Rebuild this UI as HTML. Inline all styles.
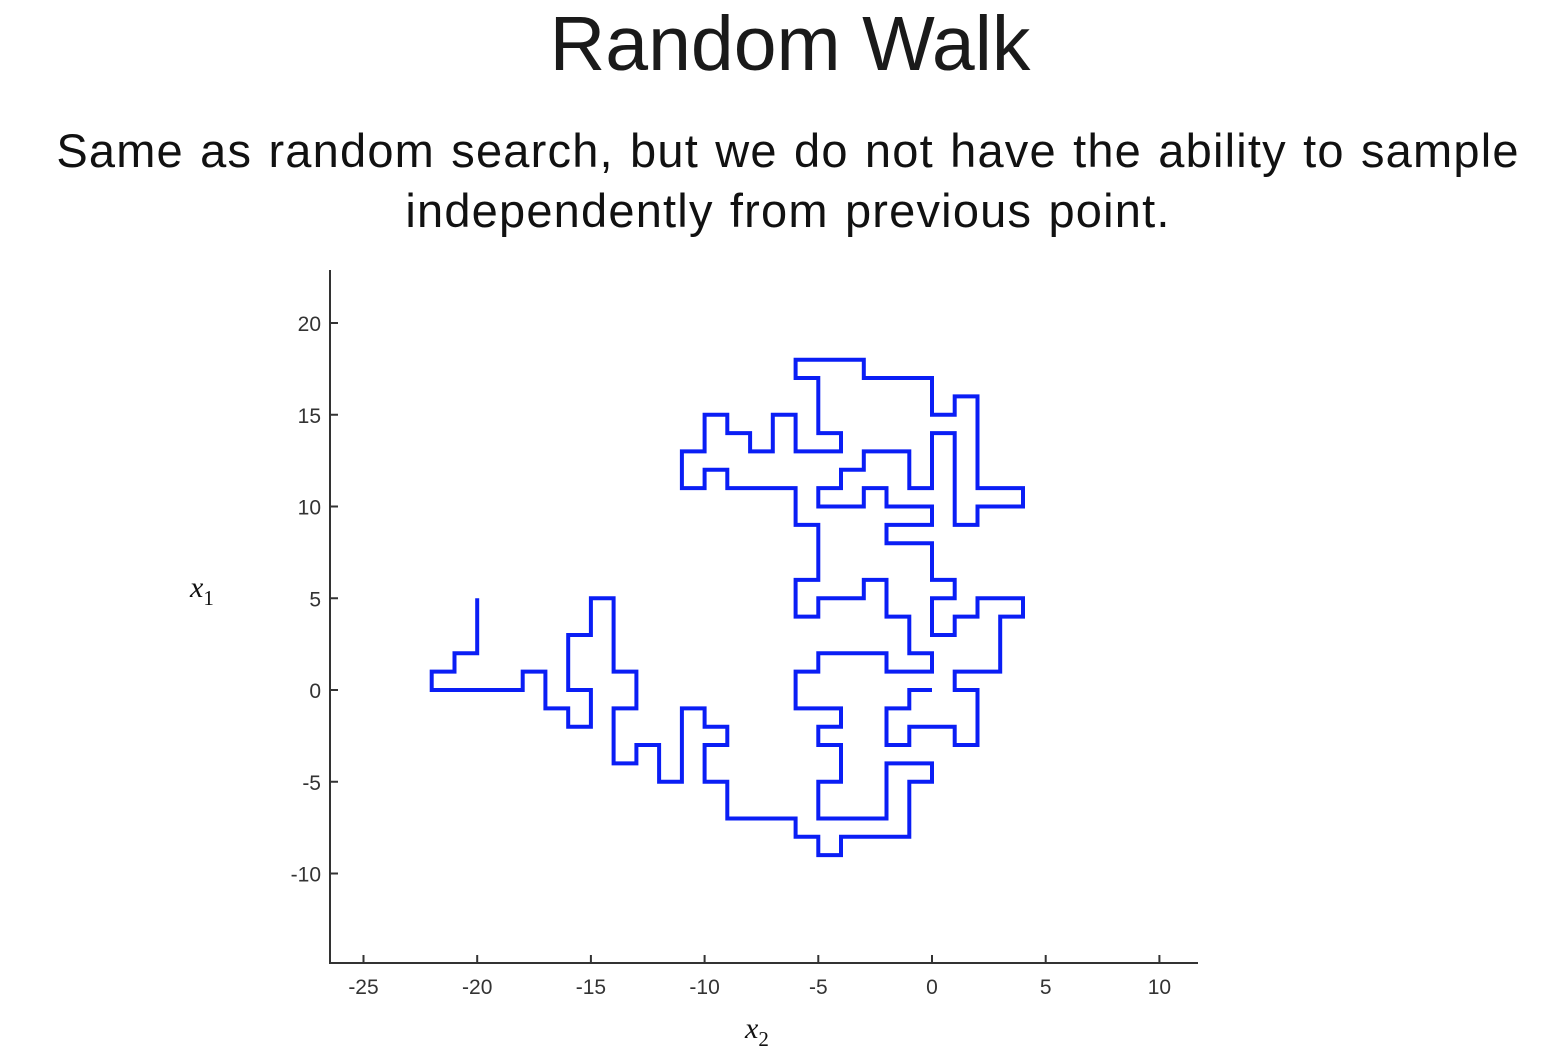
<!DOCTYPE html>
<html><head><meta charset="utf-8"><style>
body{margin:0;background:#fff;width:1545px;height:1054px;overflow:hidden;font-family:"Liberation Sans",sans-serif}
#title{position:absolute;left:0;width:1580px;top:0px;text-align:center;font-size:77px;color:#1a1a1a;font-weight:300}
#sub{position:absolute;left:0;width:1576px;top:121px;text-align:center;font-size:47px;letter-spacing:1.2px;word-spacing:2px;line-height:60px;color:#111}
svg{position:absolute;left:0;top:0}
</style></head><body>
<div id="title">Random Walk</div>
<div id="sub">Same as random search, but we do not have the ability to sample<br>independently from previous point.</div>
<svg id="chart" width="1545" height="1054"></svg>
<script>
const xTicks=[-25,-20,-15,-10,-5,0,5,10];
const yTicks=[-10,-5,0,5,10,15,20];
const walkX=[-20,-20,-21,-21,-22,-22,-18,-18,-17,-17,-16,-16,-15,-15,-16,-16,-15,-15,-14,-14,-13,-13,-14,-14,-13,-13,-12,-12,-11,-11,-10,-10,-9,-9,-10,-10,-9,-9,-6,-6,-5,-5,-4,-4,-1,-1,0,0,-2,-2,-5,-5,-4,-4,-5,-5,-4,-4,-6,-6,-5,-5,-2,-2,0,0,-1,-1,-2,-2,-3,-3,-5,-5,-6,-6,-5,-5,-6,-6,-9,-9,-10,-10,-11,-11,-10,-10,-9,-9,-8,-8,-7,-7,-6,-6,-4,-4,-5,-5,-6,-6,-3,-3,0,0,1,1,2,2,4,4,2,2,1,1,0,0,-1,-1,-3,-3,-4,-4,-5,-5,-3,-3,-2,-2,0,0,-2,-2,0,0,1,1,0,0,1,1,2,2,4,4,3,3,1,1,2,2,1,1,-1,-1,-2,-2,-1,-1,0];
const walkY=[5,2,2,1,1,0,0,1,1,-1,-1,-2,-2,0,0,3,3,5,5,1,1,-1,-1,-4,-4,-3,-3,-5,-5,-1,-1,-2,-2,-3,-3,-5,-5,-7,-7,-8,-8,-9,-9,-8,-8,-5,-5,-4,-4,-7,-7,-5,-5,-3,-3,-2,-2,-1,-1,1,1,2,2,1,1,2,2,4,4,6,6,5,5,4,4,6,6,9,9,11,11,12,12,11,11,13,13,15,15,14,14,13,13,15,15,13,13,14,14,17,17,18,18,17,17,15,15,16,16,11,11,10,10,9,9,14,14,11,11,13,13,12,12,11,11,10,10,11,11,10,10,9,9,8,8,6,6,5,5,3,3,4,4,5,5,4,4,1,1,0,0,-3,-3,-2,-2,-3,-3,-1,-1,0,0];
const NS='http://www.w3.org/2000/svg';
const svg=document.getElementById('chart');
const L=330,R=1198,T=270,B=963;
function sx(v){return 932+v*22.74;}
function sy(v){return 690-v*18.35;}
function mk(tag,attrs){const e=document.createElementNS(NS,tag);for(const k in attrs)e.setAttribute(k,attrs[k]);svg.appendChild(e);return e;}
let ax=mk('path',{d:`M${L},${T}V${B}H${R}`,stroke:'#333',fill:'none','stroke-width':2});


xTicks.forEach(v=>{
  const t=mk('line',{x1:sx(v),x2:sx(v),y1:B,y2:B-8,stroke:'#333','stroke-width':2});
  
  
  const l=mk('text',{x:sx(v),y:B+31,'text-anchor':'middle','font-size':21,fill:'#333','font-family':'Liberation Sans, sans-serif'});
  l.textContent=v;
  
  
});
yTicks.forEach(v=>{
  const t=mk('line',{x1:L,x2:L+8,y1:sy(v),y2:sy(v),stroke:'#333','stroke-width':2});
  
  
  const l=mk('text',{x:L-9,y:sy(v)+8,'text-anchor':'end','font-size':21,fill:'#333','font-family':'Liberation Sans, sans-serif'});
  l.textContent=v;
  
  
});
let d='';
walkX.forEach((v,i)=>{d+=(i?'L':'M')+sx(v).toFixed(1)+','+sy(walkY[i]).toFixed(1);});
const p=mk('path',{d:d,stroke:'#0a1ef5',fill:'none','stroke-width':4,'stroke-linejoin':'miter'});


const yl=mk('text',{x:190,y:597,'font-size':30,'font-style':'italic','font-family':'Liberation Serif, serif',fill:'#111'});
yl.innerHTML='x<tspan font-size="21" font-style="normal" dy="8">1</tspan>';


const xl=mk('text',{x:745,y:1038,'font-size':30,'font-style':'italic','font-family':'Liberation Serif, serif',fill:'#111'});
xl.innerHTML='x<tspan font-size="21" font-style="normal" dy="8">2</tspan>';


</script>
</body></html>
